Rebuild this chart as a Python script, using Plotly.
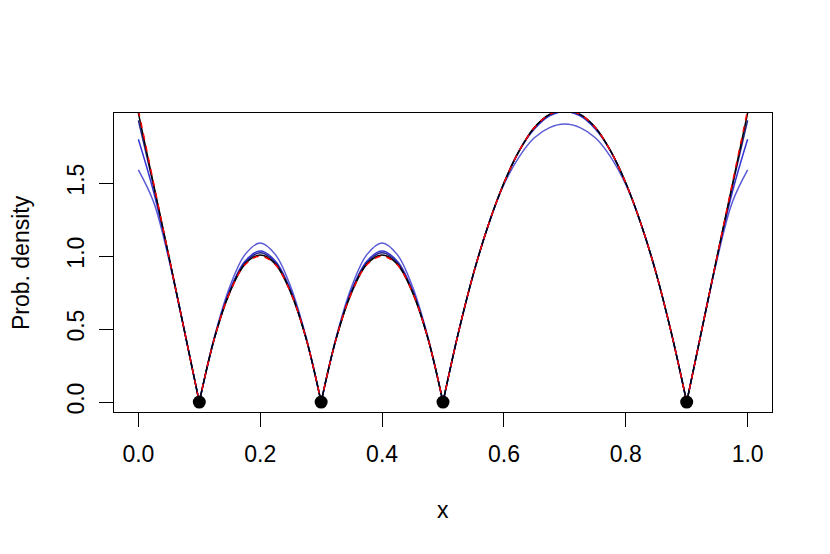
import plotly.graph_objects as go

# x grid (step 0.025)
x_grid = [0.000, 0.025, 0.050, 0.075, 0.100, 0.125, 0.150, 0.175, 0.200, 0.225,
          0.250, 0.275, 0.300, 0.325, 0.350, 0.375, 0.400, 0.425, 0.450, 0.475,
          0.500, 0.525, 0.550, 0.575, 0.600, 0.625, 0.650, 0.675, 0.700, 0.725,
          0.750, 0.775, 0.800, 0.825, 0.850, 0.875, 0.900, 0.925, 0.950, 0.975,
          1.000]

# true density (red dashed)
y_true = [2.00, 1.50, 1.00, 0.50, 0.00, 0.44, 0.75, 0.94, 1.00, 0.94,
          0.75, 0.44, 0.00, 0.44, 0.75, 0.94, 1.00, 0.94, 0.75, 0.44,
          0.00, 0.47, 0.88, 1.22, 1.50, 1.72, 1.88, 1.97, 2.00, 1.97,
          1.88, 1.72, 1.50, 1.22, 0.88, 0.47, 0.00, 0.50, 1.00, 1.50,
          2.00]

# black estimate
y_black = [1.98, 1.49, 1.00, 0.50, 0.00, 0.44, 0.75, 0.945, 1.008, 0.945,
           0.75, 0.44, 0.00, 0.44, 0.75, 0.945, 1.008, 0.945, 0.75, 0.44,
           0.00, 0.47, 0.88, 1.22, 1.50, 1.72, 1.88, 1.97, 2.00, 1.97,
           1.88, 1.72, 1.50, 1.22, 0.88, 0.47, 0.00, 0.50, 1.00, 1.49,
           1.98]

# dark blue estimate
y_dark = [1.93, 1.48, 1.00, 0.50, 0.00, 0.44, 0.76, 0.955, 1.022, 0.955,
          0.76, 0.44, 0.00, 0.44, 0.76, 0.955, 1.022, 0.955, 0.76, 0.44,
          0.00, 0.47, 0.88, 1.22, 1.50, 1.72, 1.88, 1.97, 2.00, 1.97,
          1.88, 1.72, 1.50, 1.22, 0.88, 0.47, 0.00, 0.50, 1.00, 1.48,
          1.93]

# mid blue estimate
y_mid = [1.80, 1.44, 0.99, 0.50, 0.00, 0.44, 0.765, 0.965, 1.034, 0.965,
         0.765, 0.44, 0.00, 0.44, 0.765, 0.965, 1.034, 0.965, 0.765, 0.44,
         0.00, 0.47, 0.88, 1.22, 1.50, 1.72, 1.87, 1.96, 1.99, 1.96,
         1.87, 1.72, 1.50, 1.22, 0.88, 0.47, 0.00, 0.50, 0.99, 1.44,
         1.80]

# light blue estimate
y_light = [1.59, 1.37, 0.98, 0.50, 0.00, 0.45, 0.79, 1.01, 1.09, 1.01,
           0.79, 0.45, 0.00, 0.45, 0.79, 1.01, 1.09, 1.01, 0.79, 0.45,
           0.00, 0.47, 0.88, 1.22, 1.49, 1.68, 1.81, 1.88, 1.904, 1.88,
           1.81, 1.68, 1.49, 1.22, 0.88, 0.47, 0.00, 0.50, 0.98, 1.37,
           1.59]

# observed points
pts_x = [0.1, 0.3, 0.5, 0.9]
pts_y = [0.0, 0.0, 0.0, 0.0]

x_ticks = [0.0, 0.2, 0.4, 0.6, 0.8, 1.0]
y_ticks = [0.0, 0.5, 1.0, 1.5]

x_title = "x"
y_title = "Prob. density"


def split_at_zeros(xs, ys):
    """Break a series into arcs at its zero points so the spline keeps the cusps."""
    cut = [i for i, v in enumerate(y_true) if v == 0.0]
    bounds = [0] + cut + [len(xs) - 1]
    ox, oy = [], []
    for a, b in zip(bounds[:-1], bounds[1:]):
        if b <= a:
            continue
        ox += xs[a:b + 1] + [None]
        oy += ys[a:b + 1] + [None]
    return ox, oy


fig = go.Figure()
series = [
    (y_light, "#5a5ad6", "solid"),
    (y_mid, "#3434d2", "solid"),
    (y_dark, "#22228c", "solid"),
    (y_black, "#000000", "solid"),
    (y_true, "#ff0000", "6px,6px"),
]
for ys, col, dash in series:
    px, py = split_at_zeros(x_grid, ys)
    fig.add_trace(go.Scatter(x=px, y=py, mode="lines", connectgaps=False,
                             line=dict(color=col, width=1.5, dash=dash, shape="spline", smoothing=1.0),
                             showlegend=False, hoverinfo="skip"))

fig.add_trace(go.Scatter(x=pts_x, y=pts_y, mode="markers",
                         marker=dict(color="black", size=13), showlegend=False,
                         cliponaxis=False))

font = dict(family="Liberation Sans, Arial, sans-serif", size=23, color="black")
fig.update_layout(
    width=830, height=554,
    margin=dict(l=106, r=66, t=105, b=150, autoexpand=False),
    paper_bgcolor="white", plot_bgcolor="white",
    font=font,
    xaxis=dict(range=[-0.04, 1.04], tickvals=x_ticks, ticktext=[f"{v:.1f}" for v in x_ticks],
               ticks="outside", ticklen=14, tickwidth=1, tickcolor="black",
               showline=True, linecolor="black", linewidth=1, mirror=True,
               showgrid=False, zeroline=False, ticklabelstandoff=7, automargin=False),
    yaxis=dict(range=[-0.068, 1.98], tickvals=y_ticks, ticktext=[f"{v:.1f}" for v in y_ticks],
               ticks="outside", ticklen=14, tickwidth=1, tickcolor="black", tickangle=-90,
               showline=True, linecolor="black", linewidth=1, mirror=True,
               showgrid=False, zeroline=False, ticklabelstandoff=6, automargin=False),
    annotations=[
        dict(text=x_title, xref="paper", yref="paper", x=0.5, y=-0.328,
             xanchor="center", yanchor="middle", showarrow=False, font=font),
        dict(text=y_title, xref="paper", yref="paper", x=-0.142, y=0.5, textangle=-90,
             xanchor="center", yanchor="middle", showarrow=False, font=font),
    ],
)

fig.write_html("out.html")
